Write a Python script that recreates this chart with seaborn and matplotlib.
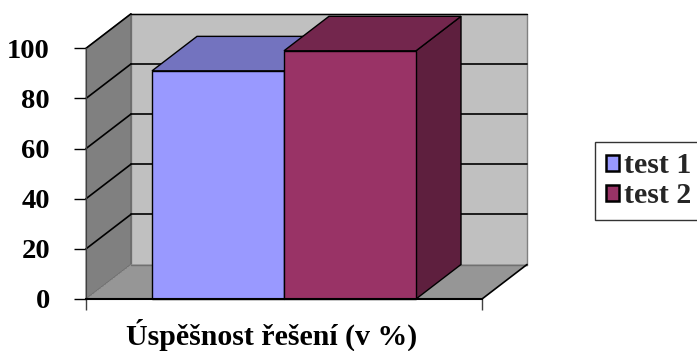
import matplotlib
matplotlib.use("Agg")
import matplotlib.pyplot as plt
from matplotlib.patches import Polygon, Rectangle
import pandas as pd
import seaborn as sns

# data
category = ["Úspěšnost řešení (v %)"]
series = ["test 1", "test 2"]
values = [91, 99]
yticks = [0, 20, 40, 60, 80, 100]

front_colors = ["#9999FF", "#993366"]
top_colors = ["#7373BF", "#73264D"]
side_colors = ["#5C5CA0", "#5E1F3E"]

sns.set_theme(style="white")
plt.rcParams["font.family"] = ["Liberation Serif", "DejaVu Serif"]
plt.rcParams["font.weight"] = "bold"

W, H = 697, 351
fig = plt.figure(figsize=(W / 100, H / 100), dpi=100)
fig.patch.set_facecolor("white")

# front plane of the plot area (pixels)
x_left, x_right, y_zero, y_top = 86, 482, 299, 48.3
ax = fig.add_axes([x_left / W, 1 - y_zero / H,
                   (x_right - x_left) / W, (y_zero - y_top) / H])
ax.set_facecolor("none")

df = pd.DataFrame({"cat": category * len(series), "series": series, "value": values})
sns.barplot(data=df, x="cat", y="value", hue="series", palette=front_colors,
            edgecolor="black", linewidth=1.0, width=0.8, legend=False, ax=ax,
            saturation=1)

xmin, xmax = -0.6, 0.6
ax.set_xlim(xmin, xmax)
ax.set_ylim(0, 100)

# depth offset of the 3-D box in data units
dx = 45 / ((x_right - x_left) / (xmax - xmin))
dy = 34.5 / ((y_zero - y_top) / 100)

kw = dict(clip_on=False)
# back wall, left wall and floor
ax.add_patch(Polygon([(xmin + dx, dy), (xmax + dx, dy), (xmax + dx, 100 + dy),
                      (xmin + dx, 100 + dy)], closed=True, facecolor="#C0C0C0",
                     edgecolor="#808080", linewidth=1.0, zorder=0.5, **kw))
ax.add_patch(Polygon([(xmin, 0), (xmin + dx, dy), (xmin + dx, 100 + dy), (xmin, 100)],
                     closed=True, facecolor="#808080", edgecolor="#606060",
                     linewidth=0.8, zorder=0.6, **kw))
ax.add_patch(Polygon([(xmin, 0), (xmax, 0), (xmax + dx, dy), (xmin + dx, dy)],
                     closed=True, facecolor="#969696", edgecolor="none",
                     zorder=0.7, **kw))
ax.plot([xmin + dx, xmax + dx], [dy, dy], color="#707070", lw=1.0, zorder=0.8, **kw)
ax.plot([xmax, xmax + dx], [0, dy], color="black", lw=1.2, zorder=0.8, **kw)
ax.plot([xmin, xmin + dx], [0, dy], color="#7a7a7a", lw=0.8, ls=":", zorder=0.8, **kw)

# gridlines across the back wall and the left wall
for t in yticks[1:]:
    ax.plot([xmin + dx, xmax + dx], [t + dy, t + dy], color="black",
            lw=1.2 if t < 100 else 1.0, zorder=0.9, **kw)
    ax.plot([xmin, xmin + dx], [t, t + dy], color="black", lw=1.2, zorder=0.9, **kw)

# 3-D tops and sides of the bars, built from the bars seaborn drew
bars = sorted([p for p in ax.patches if isinstance(p, Rectangle)
               and p.get_height() > 0 and p.get_width() < 1],
              key=lambda p: p.get_x())
for i, bar in enumerate(bars):
    x0 = bar.get_x()
    x1 = x0 + bar.get_width()
    h = bar.get_height()
    base = 3 + 3 * i
    ax.add_patch(Polygon([(x1, 0), (x1 + dx, dy), (x1 + dx, h + dy), (x1, h)],
                         closed=True, facecolor=side_colors[i], edgecolor="black",
                         linewidth=1.0, zorder=base, **kw))
    ax.add_patch(Polygon([(x0, h), (x1, h), (x1 + dx, h + dy), (x0 + dx, h + dy)],
                         closed=True, facecolor=top_colors[i], edgecolor="black",
                         linewidth=1.0, zorder=base + 0.5, **kw))
    bar.set_zorder(base + 1)
    bar.set_clip_on(False)

# axes styling
for s in ["top", "right"]:
    ax.spines[s].set_visible(False)
ax.spines["left"].set_color("#404040")
ax.spines["left"].set_linewidth(0.8)
ax.spines["bottom"].set_color("black")
ax.spines["bottom"].set_linewidth(1.5)
ax.spines["bottom"].set_zorder(10)
ax.set_yticks(yticks)
ax.set_yticklabels([str(t) for t in yticks], fontsize=20.5, fontweight="bold",
                   color="black")
ax.set_xticks([xmin, xmax])
ax.set_xticklabels(["", ""])
ax.tick_params(axis="y", direction="out", length=9, width=1.0, color="black",
               left=True, pad=17)
ax.tick_params(axis="x", direction="out", length=8, width=1.0, color="#404040",
               bottom=True)
ax.set_ylabel("")
ax.set_xlabel(category[0], fontsize=21.5, fontweight="bold", color="black")
ax.xaxis.set_label_coords((271.5 - x_left) / (x_right - x_left),
                          -(345 - y_zero) / (y_zero - y_top))
ax.xaxis.label.set_verticalalignment("baseline")

handles = [Rectangle((0, 0), 1, 1, facecolor=c, edgecolor="black", linewidth=1.8)
           for c in front_colors]
leg = fig.legend(handles, series, loc="upper left",
                 bbox_to_anchor=(595 / W, 1 - 141.7 / H), frameon=True,
                 fancybox=False, shadow=False, handlelength=0.46, handleheight=0.46,
                 handletextpad=0.15, borderpad=0.36, labelspacing=0.1,
                 borderaxespad=0, prop={"size": 21.5, "weight": "bold"})
leg.get_frame().set_edgecolor("black")
leg.get_frame().set_linewidth(1.0)

fig.savefig("out.png", dpi=100, facecolor="white")
